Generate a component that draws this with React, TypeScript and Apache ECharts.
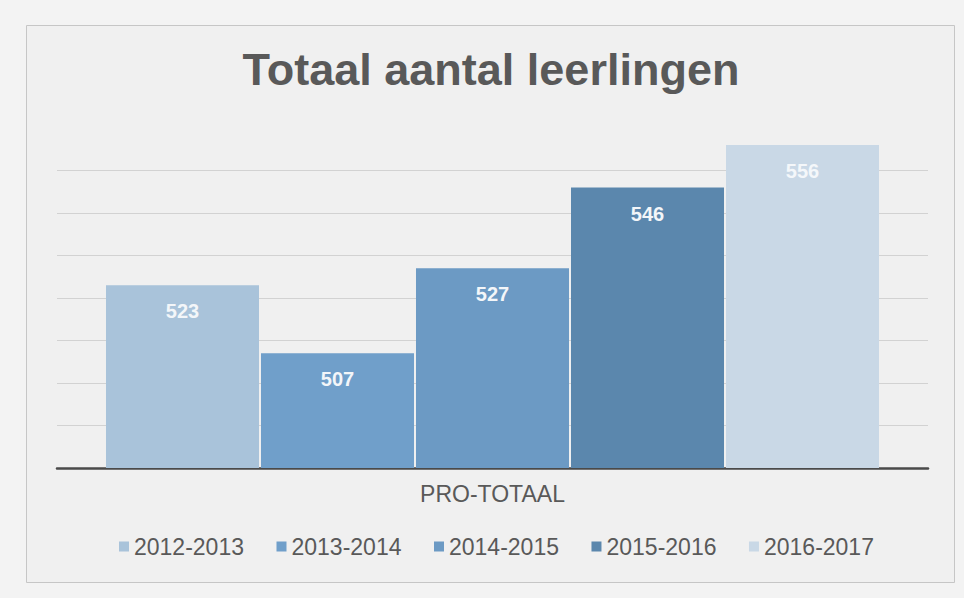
import React, { useEffect, useRef } from "react";
import * as echarts from "echarts";

const title = "Totaal aantal leerlingen";
const categories = ["PRO-TOTAAL"];
const seriesNames = ["2012-2013", "2013-2014", "2014-2015", "2015-2016", "2016-2017"];
const seriesValues = [523, 507, 527, 546, 556];
const seriesColors = ["#a9c3da", "#709fca", "#6c9ac4", "#5b87ad", "#c9d8e6"];
const labelColors = ["#f3f6f9", "#f3f6f9", "#f3f6f9", "#f3f6f9", "#f4f7fa"];
const yMin = 480;
const yMax = 560;
const yInterval = 10;

const FONT = "'Liberation Sans', Arial, Helvetica, sans-serif";

export default function App() {
  const ref = useRef<HTMLDivElement>(null);
  useEffect(() => {
    if (!ref.current) return;
    const chart = echarts.init(ref.current, undefined, { renderer: "svg" });
    chart.setOption({
      animation: false,
      backgroundColor: "#f3f3f3",
      graphic: [
        {
          type: "rect",
          z: -10,
          shape: { x: 26.5, y: 25.5, width: 928, height: 557 },
          style: { fill: "#f0f0f0", stroke: "#c6c6c6", lineWidth: 1 },
        },
        {
          type: "text",
          x: 491,
          y: 47,
          style: {
            text: title,
            fill: "#595959",
            fontSize: 45,
            fontWeight: "bold",
            fontFamily: FONT,
            textAlign: "center",
            textVerticalAlign: "top",
          },
        },
      ],
      legend: {
        data: seriesNames,
        left: 119,
        top: 535,
        padding: 0,
        itemWidth: 10,
        itemHeight: 10,
        itemGap: 32.5,
        icon: "rect",
        textStyle: { color: "#595959", fontSize: 23, fontFamily: FONT },
      },
      grid: { left: 57, right: 36, top: 128, bottom: 130, containLabel: false },
      xAxis: {
        type: "category",
        data: categories,
        axisLine: { show: true, lineStyle: { color: "#4a4a4a", width: 2.5 } },
        axisTick: { show: false },
        axisLabel: { color: "#595959", fontSize: 23, fontFamily: FONT, margin: 14 },
      },
      yAxis: {
        type: "value",
        min: yMin,
        max: yMax,
        interval: yInterval,
        axisLine: { show: false },
        axisTick: { show: false },
        axisLabel: { show: false },
        splitLine: { show: true, showMaxLine: false, lineStyle: { color: "#d2d2d2", width: 1 } },
      },
      series: seriesNames.map((name, i) => ({
        name,
        type: "bar",
        data: [seriesValues[i]],
        barCategoryGap: "11.25%",
        barGap: "1.3%",
        itemStyle: { color: seriesColors[i] },
        label: {
          show: true,
          position: "insideTop",
          distance: 16,
          color: labelColors[i],
          fontSize: 20,
          fontWeight: "bold",
          fontFamily: FONT,
        },
      })),
    });
    return () => chart.dispose();
  }, []);
  return (
    <div
      ref={ref}
      style={{ position: "fixed", left: 0, top: 0, width: 964, height: 598 }}
    />
  );
}
